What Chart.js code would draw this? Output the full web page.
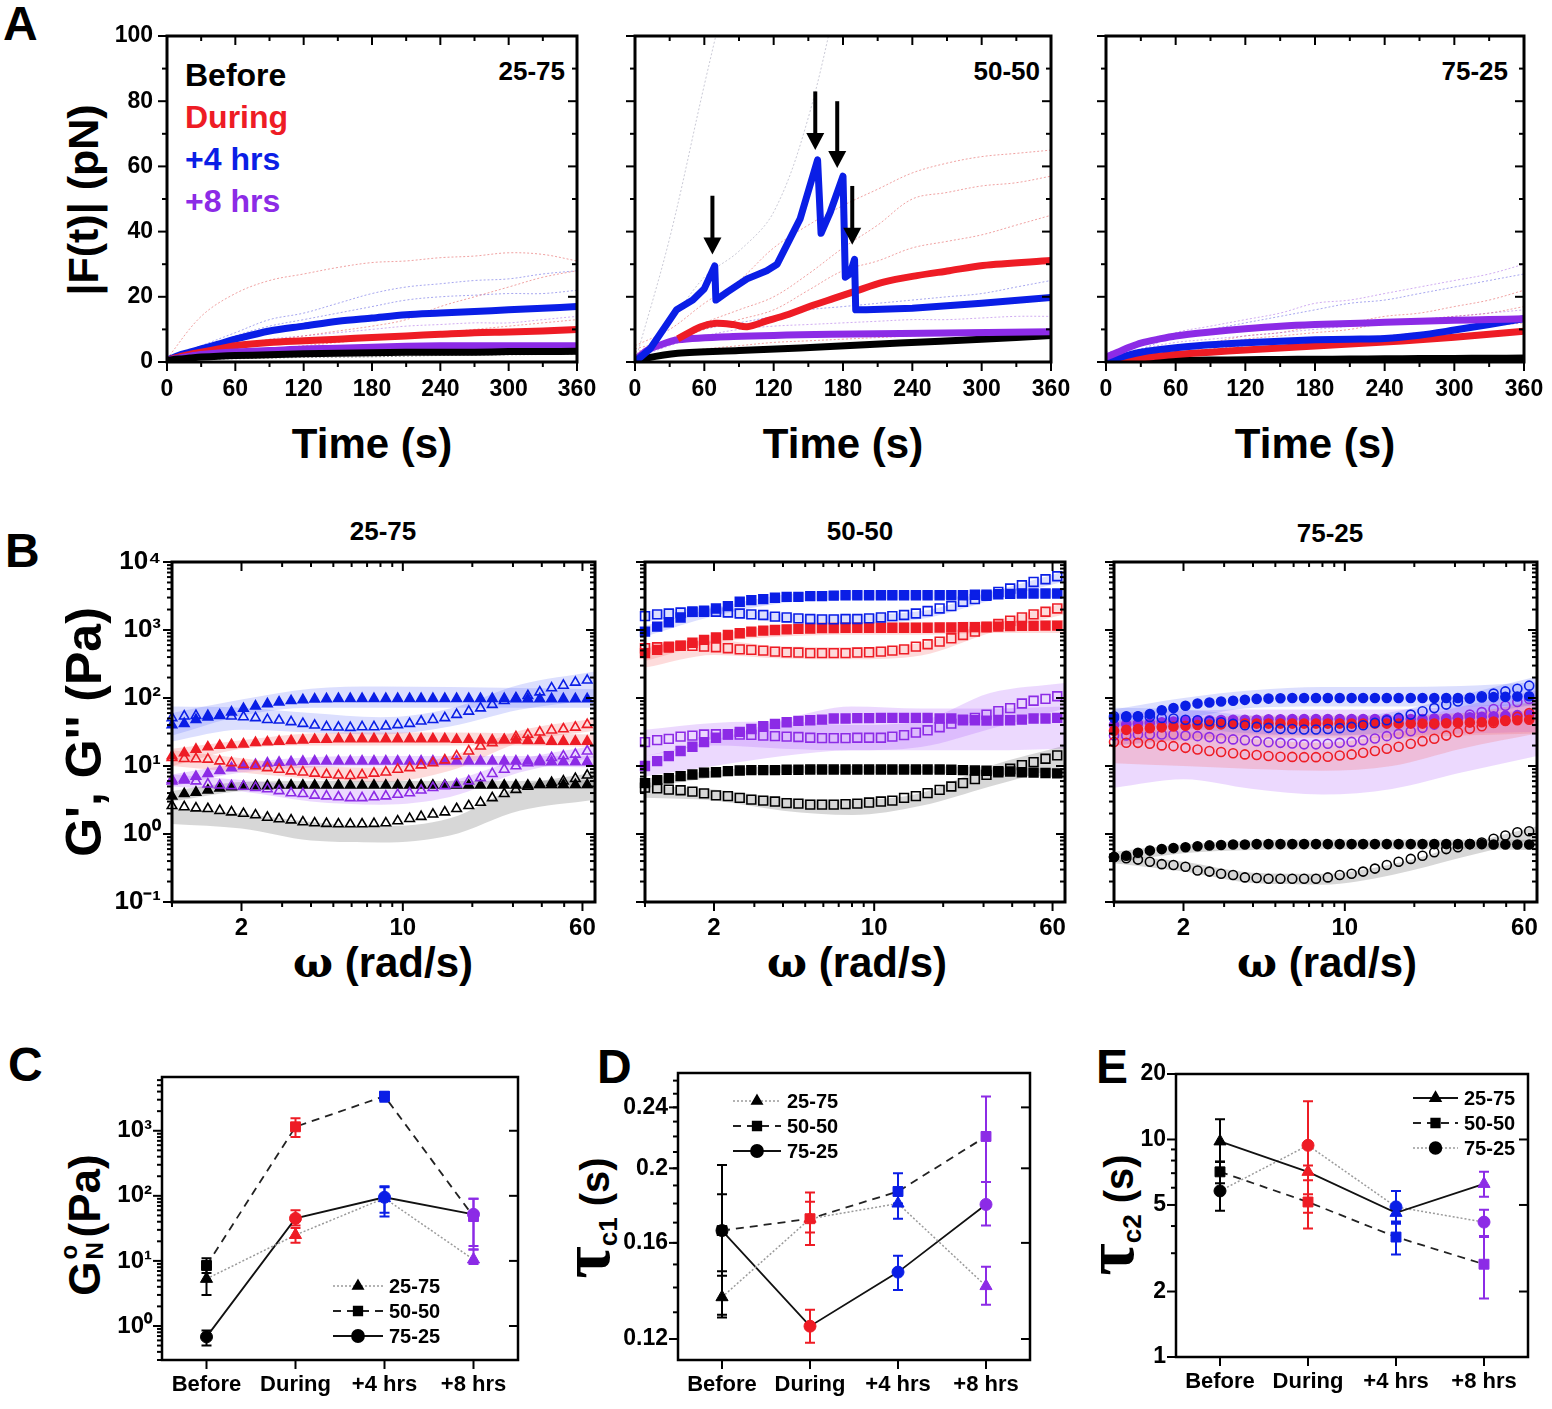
<!DOCTYPE html>
<html>
<head>
<meta charset="utf-8">
<title>Force traces and rheology</title>
<script src="https://cdn.jsdelivr.net/npm/chart.js@4.4.1/dist/chart.umd.min.js"></script>
<style>
  html, body { margin: 0; padding: 0; background: #fff; }
  body { position: relative; width: 1552px; height: 1409px; overflow: hidden;
         font-family: "Liberation Sans", Arial, sans-serif; font-weight: bold; color: #000; }
  canvas { position: absolute; }
  .t { position: absolute; white-space: nowrap; line-height: 1; font-weight: bold; }
  .c { transform: translateX(-50%); }
  .r { transform: translateX(-100%); }
  .rot { transform: translate(-50%, -50%) rotate(-90deg); }
  .ss { display: inline-block; position: relative; width: 24px; height: 1em; vertical-align: top; }
  .ss span { position: absolute; left: 2px; font-size: 24px; line-height: 1; }
  .tau { font-size: 70px; font-family: "Liberation Serif", "DejaVu Serif", serif; font-weight: bold; }
</style>
</head>
<body>

<div class="t" style="left:3px;top:0;font-size:48px">A</div>
<div class="t" style="left:5px;top:527px;font-size:48px">B</div>
<div class="t" style="left:8px;top:1041px;font-size:48px">C</div>
<div class="t" style="left:597px;top:1043px;font-size:48px">D</div>
<div class="t" style="left:1096px;top:1043px;font-size:48px">E</div>

<div class="t" style="left:185px;top:59px;font-size:32px;color:#000">Before</div>
<div class="t" style="left:185px;top:101px;font-size:32px;color:#ee1c25">During</div>
<div class="t" style="left:185px;top:143px;font-size:32px;color:#0a1ee6">+4 hrs</div>
<div class="t" style="left:185px;top:185px;font-size:32px;color:#8c2be6">+8 hrs</div>

<div class="t r" style="left:565px;top:58px;font-size:26px">25-75</div>
<div class="t r" style="left:1040px;top:58px;font-size:26px">50-50</div>
<div class="t r" style="left:1508px;top:58px;font-size:26px">75-25</div>

<div class="t c" style="left:372px;top:423px;font-size:42px">Time (s)</div>
<div class="t c" style="left:843px;top:423px;font-size:42px">Time (s)</div>
<div class="t c" style="left:1315px;top:423px;font-size:42px">Time (s)</div>

<div class="t c" style="left:383px;top:518px;font-size:26px">25-75</div>
<div class="t c" style="left:860px;top:518px;font-size:26px">50-50</div>
<div class="t c" style="left:1330px;top:520px;font-size:26px">75-25</div>

<div class="t c" style="left:383px;top:942px;font-size:42px"><span style="font-family:'DejaVu Serif'">ω</span> (rad/s)</div>
<div class="t c" style="left:857px;top:942px;font-size:42px"><span style="font-family:'DejaVu Serif'">ω</span> (rad/s)</div>
<div class="t c" style="left:1327px;top:942px;font-size:42px"><span style="font-family:'DejaVu Serif'">ω</span> (rad/s)</div>

<div class="t rot" style="left:83px;top:200px;font-size:43px">|F(t)| (pN)</div>
<div class="t rot" style="left:84px;top:732px;font-size:50px">G', G'' (Pa)</div>
<div class="t rot" style="left:85px;top:1225px;font-size:44px">G<span class="ss"><span style="top:-6px">o</span><span style="top:20px">N</span></span>(Pa)</div>
<div class="t rot" style="left:586px;top:1218px"><span class="tau">τ</span><span style="font-size:26px;position:relative;top:8px">c1</span><span style="font-size:40px"> (s)</span></div>
<div class="t rot" style="left:1110px;top:1215px"><span class="tau">τ</span><span style="font-size:26px;position:relative;top:8px">c2</span><span style="font-size:40px"> (s)</span></div>

<script>
// ---------------- shared ----------------
const stages = ['Before', 'During', '+4 hrs', '+8 hrs'];
const stageColors = ['#000000', '#ee1c25', '#0a1ee6', '#8c2be6'];
const compositions = ['25-75', '50-50', '75-25'];

// ---------------- A: |F(t)| traces ----------------
const timeTicks = [0, 60, 120, 180, 240, 300, 360];
const forceTicks = [0, 20, 40, 60, 80, 100];
const tGrid = [0, 10, 20, 30, 45, 60, 90, 120, 150, 180, 210, 240, 270, 300, 330, 360];
const tFaint = [0, 30, 60, 90, 120, 150, 180, 210, 240, 270, 300, 330, 360];

// 25-75 mean traces (on tGrid)
const a1Black  = [0.5, 0.9, 1.2, 1.5, 1.8, 2, 2.2, 2.5, 2.7, 2.8, 3, 3, 3, 3.2, 3.2, 3.3];
const a1Red    = [0.5, 1.5, 2.3, 3, 4, 5, 6, 6.5, 7, 7.5, 8, 8.5, 9, 9.2, 9.5, 10];
const a1Blue   = [0.5, 2, 3, 4, 5.5, 7, 9.5, 11, 12.5, 13.5, 14.5, 15, 15.5, 16, 16.5, 17];
const a1Purple = [0.5, 1.2, 1.8, 2.3, 2.8, 3.1, 3.5, 4, 4.2, 4.5, 4.8, 5, 5, 5, 5, 5];
// 25-75 individual traces (on tFaint)
const a1FaintRed1    = [1, 14, 21, 25, 27, 29, 30.5, 31, 32, 32.5, 33.5, 33, 31];
const a1FaintRed2    = [1, 3, 5, 6.5, 8, 9.5, 11, 13, 17, 20, 23, 26, 28];
const a1FaintRed3    = [0.5, 2, 3, 4, 5, 6, 7, 8, 9, 10, 11, 12, 13];
const a1FaintBlue1   = [1, 5, 9, 13, 15, 18, 21, 23, 24, 25, 25.5, 27, 28];
const a1FaintBlue2   = [1, 4, 8, 11, 13, 15, 17, 19, 20, 20.5, 21, 21, 22];
const a1FaintPurple1 = [1, 3, 5, 7, 8, 9, 10, 11, 11.5, 12, 12, 13, 14];
const a1FaintBlack1  = [0.3, 0.8, 1, 1.2, 1.4, 1.5, 1.6, 1.8, 2, 2.1, 2.2, 2.3, 2.4];

// 50-50 mean traces (own time points)
const a2BlueT   = [0, 13, 36, 50, 60, 69, 70, 80, 97, 114, 123, 143, 158, 161, 169, 180, 182, 186, 190, 191, 200, 240, 300, 360];
const a2BlueF   = [0, 4, 16, 19, 22.5, 29.5, 19, 21.5, 25.5, 28, 30, 44, 62, 39.5, 46, 57, 26, 27, 31.5, 16, 16, 16.5, 18, 19.8];
const a2RedT    = [37, 57, 70, 85, 97, 114, 131, 154, 172, 189, 215, 244, 272, 301, 360];
const a2RedF    = [7.1, 10.8, 11.9, 11.5, 10.8, 12.6, 14.4, 17.4, 19.5, 21.5, 24.5, 26.5, 28, 29.6, 31.1];
const a2PurpleT = [0, 10, 20, 37, 85, 170, 250, 360];
const a2PurpleF = [0.5, 3.5, 5, 6.8, 7.8, 8.5, 8.8, 9.3];
const a2BlackT  = [0, 10, 37, 90, 143, 229, 300, 360];
const a2BlackF  = [0, 1.2, 2.7, 3.5, 4.3, 5.8, 7, 8.1];
// 50-50 individual traces (on tFaint)
const a2FaintGray1   = [0, 38, 85, 130, null, null, null, null, null, null, null, null, null];
const a2FaintBlue1   = [0, 12, 26, 34, 46, 75, 120, null, null, null, null, null, null];
const a2FaintRed1    = [5, 10, 18, 25, 35, 42, 48, 53, 58, 61, 63, 64, 65];
const a2FaintRed2    = [4, 7, 12, 16, 20, 27, 35, 42, 50, 52, 54, 55, 57];
const a2FaintRed3    = [3, 6, 10, 13, 16, 22, 28, 31, 35, 37, 39, 42, 45];
const a2FaintBlue2   = [2, 6, 10, 12, 14, 16, 17, 18, 19, 20, 21, 23, 25];
const a2FaintPurple1 = [1, 5, 8, 10, 11, 11.5, 12, 12.5, 13, 13, 13.5, 14, 14];
const a2FaintRed4    = [1, 3, 4, 5, 6, 6.5, 7, 7.5, 8, 8.5, 9, 9.5, 10];
// arrows marking the rupture events on the 50-50 +4 hrs trace
const arrowT    = [67, 156, 175, 188];
const arrowFrom = [51, 83, 80, 54];
const arrowTo   = [33, 65, 59.5, 36];

// 75-25 mean traces (on tGrid)
const a3Black  = [0, 0.2, 0.3, 0.4, 0.5, 0.55, 0.6, 0.7, 0.8, 0.85, 0.9, 1, 1.05, 1.1, 1.15, 1.2];
const a3Red    = [0.2, 0.5, 0.9, 1.2, 1.8, 2.3, 3, 3.7, 4.3, 4.9, 5.5, 6.1, 6.8, 7.6, 8.5, 9.4];
const a3Blue   = [0.4, 1.2, 2.2, 3, 3.8, 4.4, 5.3, 5.9, 6.4, 6.8, 7, 7.2, 8.2, 9.8, 11.5, 13.3];
const a3Purple = [1.5, 3, 4.5, 5.8, 7, 8, 9.2, 10.2, 11, 11.5, 11.8, 12.2, 12.5, 12.8, 13, 13.3];
// 75-25 individual traces (on tFaint)
const a3FaintPurple1 = [3, 5, 9, 11, 13, 15, 18, 19, 21, 23, 25, 27, 30];
const a3FaintPurple2 = [2, 4, 6, 7, 8, 9, 10, 11, 12, 13, 14, 15, 16];
const a3FaintBlue1   = [2, 4, 8, 10, 12, 14, 16, 18, 19, 21, 23, 25, 27];
const a3FaintRed1    = [1, 3, 5, 6, 8, 9, 11, 12, 14, 15, 17, 19, 22];
const a3FaintRed2    = [1, 2, 4, 5, 7, 8, 9, 10, 12, 13, 14, 15, 17];
const a3FaintRed3    = [0.5, 2, 3, 4, 5, 6, 7, 7.5, 8, 9, 10, 11, 12];

// ---------------- B: G' (filled) and G'' (open) vs omega ----------------
const omega = [1.00, 1.13, 1.27, 1.43, 1.61, 1.81, 2.04, 2.30, 2.59, 2.91, 3.28, 3.69, 4.15, 4.67, 5.26, 5.92, 6.66, 7.50,
               8.44, 9.50, 10.7, 12.0, 13.5, 15.2, 17.1, 19.3, 21.7, 24.4, 27.5, 30.9, 34.8, 39.2, 44.1, 49.6, 55.9, 62.9];
const bandOmega = [1, 2, 4, 8, 16, 32, 68];
const omegaTicks = [2, 10, 60];
const modulusTicks = [0.1, 1, 10, 100, 1000, 10000];

// 25-75
const b1GpBlack   = [3.6, 3.9, 4.1, 4.4, 4.7, 4.9, 5.0, 5.1, 5.1, 5.2, 5.2, 5.2, 5.2, 5.2, 5.2, 5.2, 5.2, 5.2, 5.2, 5.2, 5.2, 5.2, 5.2, 5.2, 5.2, 5.2, 5.2, 5.2, 5.2, 5.2, 5.2, 5.3, 5.3, 5.3, 5.3, 5.3];
const b1GppBlack  = [2.6, 2.5, 2.4, 2.35, 2.2, 2.1, 2.0, 1.9, 1.75, 1.66, 1.6, 1.5, 1.45, 1.42, 1.4, 1.4, 1.4, 1.42, 1.45, 1.55, 1.68, 1.8, 1.95, 2.1, 2.35, 2.6, 2.9, 3.4, 3.9, 4.5, 5.0, 5.4, 5.7, 6.0, 6.5, 7.3];
const b1GpRed     = [14, 15.5, 17.5, 19, 20, 20.5, 21, 22, 22.5, 23, 23.5, 24, 24.5, 24.5, 25, 25, 25, 25, 25, 25, 25, 25, 25, 25, 24.5, 24.5, 24, 24, 24, 24, 23.5, 23.5, 23, 23, 23, 23];
const b1GppRed    = [13.2, 12.8, 12.7, 12.5, 11.8, 11.1, 10.5, 10, 9.4, 8.9, 8.4, 8.1, 7.8, 7.5, 7.3, 7.2, 7.4, 7.8, 8.1, 8.9, 9.4, 10.3, 11.1, 12.2, 14, 16.5, 19.5, 21.9, 24.5, 26.8, 29, 31.4, 33.6, 35, 37, 40.6];
const b1GpBlue    = [40, 42, 48, 52, 56, 62, 70, 76, 82, 87, 91, 94, 96, 97, 98, 98, 98, 98, 98, 98, 98, 98, 98, 98, 98, 98, 98, 98, 98, 97, 97, 97, 97, 97, 97, 97];
const b1GppBlue   = [51, 54, 55, 55, 55, 54, 52.6, 51, 48, 47, 44.5, 42, 39.7, 37.5, 37.1, 36.7, 37.5, 37.5, 38.4, 40.2, 42, 45.5, 48, 51, 57, 63.5, 71, 80, 91, 100, 108, 122, 140, 153, 170, 182];
const b1GpPurple  = [6, 6.5, 7, 7.7, 8.5, 9.4, 10, 10.5, 11, 11.3, 11.5, 11.7, 11.8, 11.8, 11.8, 11.8, 11.8, 11.8, 11.8, 11.8, 11.8, 11.8, 11.8, 11.8, 11.8, 11.8, 11.8, 11.8, 11.8, 11.8, 11.8, 11.5, 11.5, 11.5, 11.5, 11.5];
const b1GppPurple = [6.3, 6.2, 6.0, 5.4, 5.2, 5.1, 5.0, 4.8, 4.6, 4.3, 4.0, 3.9, 3.7, 3.6, 3.5, 3.4, 3.4, 3.5, 3.6, 3.8, 4.0, 4.4, 4.8, 5.1, 5.4, 6.0, 6.7, 7.7, 8.9, 10, 11.1, 12.2, 13.2, 14, 14.8, 16.5];
// 25-75 spread (on bandOmega)
const b1BandGpBlackLo   = [3.0, 4.3, 4.6, 4.6, 4.6, 4.6, 4.6];
const b1BandGpBlackHi   = [4.3, 5.8, 6.0, 6.0, 6.0, 6.0, 6.2];
const b1BandGppBlackLo  = [1.4, 1.2, 0.8, 0.75, 0.95, 2.2, 3.2];
const b1BandGppBlackHi  = [2.4, 2.0, 1.5, 1.3, 1.7, 5.0, 8.0];
const b1BandGpRedLo     = [10, 18, 20, 20, 20, 20, 19];
const b1BandGpRedHi     = [18, 24, 30, 31, 31, 30, 29];
const b1BandGppRedLo    = [10, 8, 6.5, 5.8, 8.5, 22, 33];
const b1BandGppRedHi    = [17, 13, 10, 9.5, 14, 33, 50];
const b1BandGpBlueLo    = [28, 55, 72, 72, 72, 72, 72];
const b1BandGpBlueHi    = [60, 95, 137, 148, 145, 140, 135];
const b1BandGppBlueLo   = [23, 34, 31, 29, 38, 67, 95];
const b1BandGppBlueHi   = [75, 72, 60, 52, 70, 157, 246];
const b1BandGpPurpleLo  = [5, 8, 9.5, 9.8, 9.8, 9.8, 9.5];
const b1BandGpPurpleHi  = [7.5, 11, 13.5, 14, 14, 14, 14];
const b1BandGppPurpleLo = [5, 4.2, 3.0, 2.7, 3.5, 8, 13.5];
const b1BandGppPurpleHi = [7.5, 6.2, 5, 4.5, 6, 12.5, 20];

// 50-50
const b2GpBlack   = [5.6, 6.2, 6.6, 7.1, 7.5, 8.0, 8.1, 8.4, 8.6, 8.7, 8.7, 8.7, 8.8, 8.8, 8.9, 8.9, 8.9, 8.9, 8.9, 8.9, 8.9, 8.9, 8.9, 8.9, 8.9, 8.9, 8.8, 8.7, 8.6, 8.5, 8.4, 8.3, 8.1, 8.0, 7.9, 7.8];
const b2GppBlack  = [4.8, 4.7, 4.5, 4.4, 4.2, 3.96, 3.7, 3.6, 3.4, 3.2, 3.1, 3.0, 2.85, 2.8, 2.7, 2.7, 2.7, 2.75, 2.8, 2.9, 3.0, 3.1, 3.4, 3.6, 4.0, 4.45, 5.0, 5.6, 6.4, 7.4, 8.1, 9.1, 10.3, 11.4, 12.8, 14.3];
const b2GpRed     = [456, 510, 550, 590, 650, 715, 780, 845, 895, 946, 978, 1000, 1020, 1040, 1050, 1070, 1070, 1080, 1080, 1080, 1080, 1080, 1080, 1080, 1080, 1090, 1090, 1100, 1100, 1120, 1120, 1140, 1150, 1150, 1160, 1160];
const b2GppRed    = [540, 557, 570, 585, 585, 570, 557, 540, 520, 510, 498, 480, 470, 466, 456, 456, 456, 456, 466, 470, 480, 498, 520, 570, 617, 675, 755, 845, 946, 1094, 1225, 1370, 1530, 1700, 1855, 2075];
const b2GpBlue    = [946, 1120, 1295, 1530, 1855, 1920, 2075, 2245, 2600, 2750, 2843, 2975, 3075, 3075, 3145, 3145, 3200, 3250, 3250, 3250, 3250, 3250, 3250, 3250, 3250, 3250, 3250, 3250, 3300, 3300, 3350, 3400, 3440, 3440, 3440, 3440];
const b2GppBlue   = [1600, 1700, 1750, 1810, 1855, 1855, 1855, 1810, 1750, 1700, 1660, 1570, 1530, 1480, 1450, 1430, 1430, 1450, 1450, 1480, 1530, 1600, 1660, 1750, 1900, 2075, 2245, 2600, 2843, 3180, 3640, 4070, 4550, 5090, 5570, 6170];
const b2GpPurple  = [10, 11.8, 14, 16.6, 19.2, 22.4, 26, 29, 31.8, 35, 38.5, 41.7, 44, 46, 47, 48, 50, 50, 50.6, 50.6, 51, 51, 51, 51, 51, 50, 50, 48, 47, 46.5, 46.5, 47, 48, 50, 50, 51];
const b2GppPurple = [22.4, 24, 25, 27, 28, 29, 29.3, 29.3, 29, 28.7, 28, 27.5, 27, 26.7, 26, 25.7, 25.7, 25.7, 26, 26, 26, 27, 28.4, 30.9, 33.5, 37.2, 42, 47, 51, 57, 64, 71, 83, 91, 97, 106];
const b2BandGpBlackLo   = [4.8, 6.8, 7.8, 7.8, 7.8, 7.5, 6.8];
const b2BandGpBlackHi   = [6.5, 8.5, 10, 10, 10, 9.5, 9];
const b2BandGppBlackLo  = [3.4, 3.1, 2.2, 1.9, 2.6, 5, 10];
const b2BandGppBlackHi  = [5.2, 4.5, 3.4, 3.2, 4, 10, 20];
const b2BandGpRedLo     = [350, 650, 800, 850, 850, 900, 900];
const b2BandGpRedHi     = [550, 850, 1200, 1300, 1300, 1350, 1400];
const b2BandGppRedLo    = [280, 430, 380, 370, 420, 900, 1700];
const b2BandGppRedHi    = [640, 700, 570, 560, 650, 1300, 2500];
const b2BandGpBlueLo    = [800, 1600, 2500, 2800, 2800, 2900, 3000];
const b2BandGpBlueHi    = [1150, 2100, 3300, 3800, 3800, 3900, 4000];
const b2BandGppBlueLo   = [1350, 1550, 1300, 1250, 1450, 2700, 5200];
const b2BandGppBlueHi   = [1900, 2100, 1750, 1700, 1900, 3600, 7300];
const b2BandGpPurpleLo  = [7, 10, 14, 17, 17, 17, 18];
const b2BandGpPurpleHi  = [14, 24, 48, 75, 70, 70, 75];
const b2BandGppPurpleLo = [14, 20, 18, 17, 19, 35, 70];
const b2BandGppPurpleHi = [34, 43, 45, 40, 46, 118, 166];

// 75-25
const b3GpBlack   = [0.46, 0.48, 0.53, 0.57, 0.6, 0.62, 0.64, 0.66, 0.68, 0.69, 0.7, 0.7, 0.71, 0.71, 0.71, 0.71, 0.71, 0.71, 0.71, 0.71, 0.71, 0.71, 0.71, 0.71, 0.71, 0.71, 0.71, 0.71, 0.71, 0.71, 0.71, 0.71, 0.7, 0.7, 0.7, 0.7];
const b3GppBlack  = [0.46, 0.44, 0.42, 0.39, 0.36, 0.35, 0.33, 0.29, 0.28, 0.26, 0.25, 0.23, 0.225, 0.22, 0.22, 0.22, 0.22, 0.22, 0.23, 0.25, 0.26, 0.28, 0.31, 0.35, 0.39, 0.43, 0.48, 0.54, 0.6, 0.64, 0.71, 0.75, 0.85, 0.95, 1.06, 1.1];
const b3GpRed     = [33, 34, 35, 36, 37, 38, 39, 40, 40.5, 41, 41.5, 42, 42, 42, 42, 42, 42, 42, 42, 42, 42, 42, 42, 42, 42, 42, 42, 42, 42.5, 43, 43.5, 44, 45, 46, 47, 48];
const b3GppRed    = [22.5, 22, 21.9, 21.2, 20.1, 19.6, 18.5, 17.5, 16.6, 16.1, 15.4, 14.8, 14.5, 14.0, 13.7, 13.6, 13.5, 13.5, 13.7, 14.3, 14.8, 15.7, 16.6, 17.9, 19.2, 21.2, 23.2, 25.1, 28, 31.4, 35.2, 38.5, 43, 47, 52.7, 60];
const b3GpBlue    = [51, 52.7, 54, 58, 66, 71, 77, 83, 86, 89, 91, 94, 97, 98, 99, 100, 100, 100, 100, 100, 100, 100, 100, 100, 100, 100, 100, 100, 100, 100, 101, 102, 103, 104, 105, 106];
const b3GppBlue   = [54, 54, 53.5, 52.7, 51, 50, 48, 47, 45.5, 44, 41.7, 39.8, 37.6, 36.4, 35.2, 35, 34.4, 34.4, 35, 36, 37.6, 39.8, 43, 47, 51, 57, 64, 71, 80, 89, 98, 106, 116, 125, 137, 152];
const b3GpPurple  = [40, 41, 42, 43, 44, 45, 46, 46.5, 47, 47.5, 48, 48, 48, 48.5, 48.5, 49, 49, 49, 49, 49, 49, 49, 49, 49, 49, 49, 49, 50, 50, 51, 52, 53, 54, 55, 56, 57];
const b3GppPurple = [28, 28.2, 29, 29, 29, 29, 28, 27.5, 26.6, 25.4, 24.6, 24, 23.2, 22.4, 21.9, 21.4, 20.8, 20.8, 21.2, 21.9, 22.6, 24, 25.4, 27.5, 29.7, 32.5, 36.4, 40.6, 45.5, 51, 57, 62, 69, 77, 87.5, 97];
const b3BandGpBlackLo   = [0.38, 0.52, 0.58, 0.6, 0.6, 0.6, 0.58];
const b3BandGpBlackHi   = [0.55, 0.7, 0.8, 0.82, 0.82, 0.82, 0.82];
const b3BandGppBlackLo  = [0.37, 0.28, 0.19, 0.18, 0.25, 0.45, 0.85];
const b3BandGppBlackHi  = [0.5, 0.39, 0.27, 0.26, 0.36, 0.68, 1.3];
const b3BandGpRedLo     = [20, 24, 26, 26, 26, 28, 30];
const b3BandGpRedHi     = [45, 50, 55, 55, 55, 60, 65];
const b3BandGppRedLo    = [11, 10, 9, 8.5, 10, 18, 30];
const b3BandGppRedHi    = [35, 32, 25, 22, 30, 55, 90];
const b3BandGpBlueLo    = [38, 50, 72, 75, 75, 75, 78];
const b3BandGpBlueHi    = [68, 100, 130, 145, 145, 150, 170];
const b3BandGppBlueLo   = [38, 36, 30, 28, 32, 52, 80];
const b3BandGppBlueHi   = [72, 68, 55, 50, 62, 110, 207];
const b3BandGpPurpleLo  = [20, 25, 28, 28, 28, 30, 32];
const b3BandGpPurpleHi  = [60, 65, 68, 68, 68, 75, 85];
const b3BandGppPurpleLo = [4.8, 6.4, 4.6, 3.8, 4.6, 8, 14];
const b3BandGppPurpleHi = [48, 45, 38, 34, 42, 75, 130];

// ---------------- C: plateau modulus ----------------
const gnTicks = [1, 10, 100, 1000];
const gn2575 = [5.3, 25, 92, 10.5];
const gn2575Lo = [3.0, 19, 48, 9];
const gn2575Hi = [8, 32, 135, 15];
const gn5050 = [8.5, 1150, 3400, 48];
const gn5050Lo = [6.5, 800, 2800, 17];
const gn5050Hi = [11, 1550, 3900, 90];
const gn7525 = [0.68, 45, 95, 52];
const gn7525Lo = [0.5, 35, 55, 15];
const gn7525Hi = [0.85, 60, 140, 90];

// ---------------- D: tau_c1 ----------------
const tc1Ticks = [0.12, 0.16, 0.2, 0.24];
const tc1_2575 = [0.136, 0.172, 0.180, 0.1406];
const tc1_2575Lo = [0.129, 0.165, 0.172, 0.133];
const tc1_2575Hi = [0.145, 0.181, 0.187, 0.149];
const tc1_5050 = [0.166, 0.172, 0.1866, 0.220];
const tc1_5050Lo = [0.128, 0.159, 0.180, 0.192];
const tc1_5050Hi = [0.202, 0.186, 0.197, 0.248];
const tc1_7525 = [0.166, 0.1247, 0.1466, 0.1795];
const tc1_7525Lo = [0.147, 0.1187, 0.139, 0.1686];
const tc1_7525Hi = [0.185, 0.131, 0.154, 0.192];

// ---------------- E: tau_c2 ----------------
const tc2Ticks = [1, 2, 5, 10, 20];
const tc2_2575 = [9.8, 7.1, 4.6, 6.25];
const tc2_2575Lo = [7.9, 6.5, 4.2, 5.45];
const tc2_2575Hi = [12.4, 7.6, 5.0, 7.1];
const tc2_5050 = [7.1, 5.16, 3.56, 2.67];
const tc2_5050Lo = [6.3, 4.6, 2.96, 1.86];
const tc2_5050Hi = [7.9, 5.6, 4.1, 3.56];
const tc2_7525 = [5.8, 9.4, 4.9, 4.17];
const tc2_7525Lo = [4.7, 3.9, 4.15, 3.6];
const tc2_7525Hi = [7.9, 15.0, 5.8, 4.75];

// ================= drawing =================
Chart.defaults.font.family = '"Liberation Sans", Arial, sans-serif';
Chart.defaults.font.weight = 'bold';
Chart.defaults.color = '#000';

const sup = { '-1': '\u207B\u00B9', '0': '\u2070', '1': '\u00B9', '2': '\u00B2', '3': '\u00B3', '4': '\u2074' };
const powLabel = v => '10' + sup[String(Math.round(Math.log10(v)))];

function range(a, b, step) { const r = []; for (let v = a; v <= b + 1e-9; v += step) r.push(+v.toFixed(4)); return r; }
function logMinor(lo, hi) {
  const r = [];
  for (let d = lo; d < hi; d *= 10) for (let k = 2; k <= 9; k++) r.push(+(d * k).toPrecision(3));
  return r;
}

// box around the plot area plus major / minor tick marks
const framePlugin = {
  id: 'frame',
  afterDatasetsDraw(chart, args, o) {
    const { ctx, chartArea: a } = chart;
    const xs = chart.scales.x, ys = chart.scales.y;
    ctx.save();
    ctx.strokeStyle = '#000';
    ctx.lineCap = 'square';
    ctx.lineWidth = o.tickWidth || 2;
    const xt = (vals, len, top) => (vals || []).forEach(v => {
      const px = xs.getPixelForValue(v);
      if (px < a.left - 1 || px > a.right + 1) return;
      ctx.beginPath(); ctx.moveTo(px, a.bottom); ctx.lineTo(px, a.bottom + len); ctx.stroke();
      if (top) { ctx.beginPath(); ctx.moveTo(px, a.top); ctx.lineTo(px, a.top + len); ctx.stroke(); }
    });
    const yt = (vals, len, right) => (vals || []).forEach(v => {
      const py = ys.getPixelForValue(v);
      if (py < a.top - 1 || py > a.bottom + 1) return;
      ctx.beginPath(); ctx.moveTo(a.left, py); ctx.lineTo(a.left - len, py); ctx.stroke();
      if (right) { ctx.beginPath(); ctx.moveTo(a.right, py); ctx.lineTo(a.right - len, py); ctx.stroke(); }
    });
    xt(o.xMajor, 8, o.topTicks);
    xt(o.xMinor, 4, o.topTicks);
    yt(o.yMajor, 8, true);
    yt(o.yMinor, 4, o.rightMinor);
    ctx.lineWidth = o.lw || 2.5;
    ctx.lineCap = 'butt';
    ctx.strokeRect(a.left, a.top, a.right - a.left, a.bottom - a.top);
    ctx.restore();
  }
};

// arrows for the 50-50 force panel
const arrowPlugin = {
  id: 'arrows',
  afterDatasetsDraw(chart, args, o) {
    if (!o.t) return;
    const { ctx } = chart;
    const xs = chart.scales.x, ys = chart.scales.y;
    ctx.save();
    ctx.fillStyle = '#000';
    ctx.strokeStyle = '#000';
    o.t.forEach((t, i) => {
      const x = xs.getPixelForValue(t);
      const y0 = ys.getPixelForValue(o.from[i]);
      const y1 = ys.getPixelForValue(o.to[i]);
      ctx.lineWidth = 4;
      ctx.beginPath(); ctx.moveTo(x, y0); ctx.lineTo(x, y1 - 14); ctx.stroke();
      ctx.beginPath(); ctx.moveTo(x - 9, y1 - 17); ctx.lineTo(x + 9, y1 - 17); ctx.lineTo(x, y1); ctx.closePath(); ctx.fill();
    });
    ctx.restore();
  }
};

// vertical error bars, coloured by stage
const errPlugin = {
  id: 'errBars',
  beforeDatasetsDraw(chart, args, o) {
    if (!o.bars) return;
    const { ctx } = chart;
    const xs = chart.scales.x, ys = chart.scales.y;
    ctx.save();
    ctx.lineWidth = 2;
    o.bars.forEach(b => {
      b.lo.forEach((lo, i) => {
        const x = xs.getPixelForValue(i);
        const yl = ys.getPixelForValue(lo), yh = ys.getPixelForValue(b.hi[i]);
        ctx.strokeStyle = stageColors[i];
        ctx.beginPath();
        ctx.moveTo(x, yl); ctx.lineTo(x, yh);
        ctx.moveTo(x - 5, yl); ctx.lineTo(x + 5, yl);
        ctx.moveTo(x - 5, yh); ctx.lineTo(x + 5, yh);
        ctx.stroke();
      });
    });
    ctx.restore();
  }
};

// small legend inside the plot area, built from the datasets
const inLegendPlugin = {
  id: 'inLegend',
  afterDraw(chart, args, o) {
    if (o.x === undefined) return;
    const { ctx, chartArea: a } = chart;
    ctx.save();
    ctx.font = 'bold 20px "Liberation Sans", Arial, sans-serif';
    ctx.textBaseline = 'middle';
    chart.data.datasets.forEach((ds, i) => {
      const y = a.top + o.y + i * o.gap;
      const x0 = a.left + o.x, x1 = x0 + o.len;
      ctx.strokeStyle = ds.borderColor;
      ctx.lineWidth = ds.borderWidth;
      ctx.setLineDash(ds.borderDash || []);
      ctx.beginPath(); ctx.moveTo(x0, y); ctx.lineTo(x1, y); ctx.stroke();
      ctx.setLineDash([]);
      ctx.fillStyle = '#000';
      ctx.strokeStyle = '#000';
      Chart.helpers.drawPoint(ctx, { pointStyle: ds.pointStyle, radius: 6, rotation: 0, borderWidth: 1 }, (x0 + x1) / 2, y);
      ctx.fillText(ds.label, x1 + 6, y + 1);
    });
    ctx.restore();
  }
};

function makeCanvas(plot, pad) {
  const c = document.createElement('canvas');
  const w = plot.r - plot.l + pad.l + pad.r;
  const h = plot.b - plot.t + pad.t + pad.b;
  c.width = w; c.height = h;
  c.style.left = (plot.l - pad.l) + 'px';
  c.style.top = (plot.t - pad.t) + 'px';
  c.style.width = w + 'px';
  c.style.height = h + 'px';
  document.body.appendChild(c);
  return c;
}

function fixedTicks(vals) { return s => { s.ticks = vals.map(v => ({ value: v })); }; }

function drawChart(plot, pad, datasets, scales, pluginOpts, plugins) {
  const canvas = makeCanvas(plot, pad);
  scales.x.afterFit = s => { s.height = pad.b; };
  scales.y.afterFit = s => { s.width = pad.l; };
  for (const k of ['x', 'y']) {
    scales[k].grid = { display: false, drawTicks: false };
    scales[k].border = { display: false };
  }
  return new Chart(canvas, {
    type: 'line',
    data: { datasets },
    options: {
      responsive: false,
      animation: false,
      devicePixelRatio: 1,
      layout: { padding: { top: pad.t, right: pad.r, left: 0, bottom: 0 } },
      scales,
      plugins: Object.assign({ legend: { display: false }, tooltip: { enabled: false } }, pluginOpts)
    },
    plugins: [framePlugin].concat(plugins || [])
  });
}

// ---------- row A ----------
const faintCol = {
  red: 'rgba(225,70,70,0.5)', blue: 'rgba(60,60,220,0.45)', purple: 'rgba(150,70,225,0.45)',
  gray: 'rgba(120,120,150,0.4)', black: 'rgba(0,0,0,0.45)'
};
function pts(ts, vs) { return ts.map((t, i) => ({ x: t, y: vs[i] })); }
function thick(ts, vs, color, tension) {
  return { data: pts(ts, vs), borderColor: color, borderWidth: 7, pointRadius: 0, tension: tension, fill: false, borderJoinStyle: 'round' };
}
function faint(vs, color) {
  return { data: pts(tFaint, vs), borderColor: color, borderWidth: 1, borderDash: [2, 2], pointRadius: 0, tension: 0.35, fill: false };
}
function forceScales(showY) {
  return {
    x: { type: 'linear', min: 0, max: 360, afterBuildTicks: fixedTicks(timeTicks),
         ticks: { font: { size: 23, weight: 'bold' }, padding: 14, maxRotation: 0, autoSkip: false } },
    y: { type: 'linear', min: 0, max: 100, afterBuildTicks: fixedTicks(forceTicks),
         ticks: { display: showY, font: { size: 23, weight: 'bold' }, padding: 14, autoSkip: false } }
  };
}
const forceFrame = { frame: { xMajor: timeTicks, xMinor: range(30, 330, 60), yMajor: forceTicks, yMinor: range(10, 90, 20), topTicks: true, rightMinor: true, lw: 3 } };
const padA = { l: 75, r: 35, t: 40, b: 50 };

drawChart({ l: 167, r: 577, t: 36, b: 362 }, padA, [
  thick(tGrid, a1Black, '#000', 0.3),
  thick(tGrid, a1Purple, stageColors[3], 0.3),
  thick(tGrid, a1Red, stageColors[1], 0.3),
  thick(tGrid, a1Blue, stageColors[2], 0.3),
  faint(a1FaintRed1, faintCol.red), faint(a1FaintRed2, faintCol.red), faint(a1FaintRed3, faintCol.red),
  faint(a1FaintBlue1, faintCol.blue), faint(a1FaintBlue2, faintCol.blue),
  faint(a1FaintPurple1, faintCol.purple), faint(a1FaintBlack1, faintCol.black)
], forceScales(true), forceFrame);

drawChart({ l: 635, r: 1051, t: 36, b: 362 }, padA, [
  thick(a2BlueT, a2BlueF, stageColors[2], 0),
  thick(a2RedT, a2RedF, stageColors[1], 0.3),
  thick(a2PurpleT, a2PurpleF, stageColors[3], 0.3),
  thick(a2BlackT, a2BlackF, '#000', 0.3),
  faint(a2FaintGray1, faintCol.gray), faint(a2FaintBlue1, faintCol.gray),
  faint(a2FaintRed1, faintCol.red), faint(a2FaintRed2, faintCol.red), faint(a2FaintRed3, faintCol.red),
  faint(a2FaintRed4, faintCol.red), faint(a2FaintBlue2, faintCol.blue), faint(a2FaintPurple1, faintCol.purple)
], forceScales(false), Object.assign({ arrows: { t: arrowT, from: arrowFrom, to: arrowTo } }, forceFrame), [arrowPlugin]);

drawChart({ l: 1106, r: 1524, t: 36, b: 362 }, padA, [
  thick(tGrid, a3Purple, stageColors[3], 0.3),
  thick(tGrid, a3Blue, stageColors[2], 0.3),
  thick(tGrid, a3Red, stageColors[1], 0.3),
  thick(tGrid, a3Black, '#000', 0.3),
  faint(a3FaintPurple1, faintCol.purple), faint(a3FaintPurple2, faintCol.purple), faint(a3FaintBlue1, faintCol.blue),
  faint(a3FaintRed1, faintCol.red), faint(a3FaintRed2, faintCol.red), faint(a3FaintRed3, faintCol.red)
], forceScales(false), forceFrame);

// ---------- row B ----------
const bandCol = ['rgba(110,110,110,0.28)', 'rgba(245,90,90,0.22)', 'rgba(80,95,250,0.2)', 'rgba(175,95,250,0.24)'];
function marks(vals, color, style, filled, r) {
  return {
    data: omega.map((w, i) => ({ x: w, y: vals[i] })), showLine: false,
    pointStyle: style, pointRadius: r, pointBorderWidth: 1.6,
    pointBackgroundColor: filled ? color : 'rgba(255,255,255,0)', pointBorderColor: color,
    order: 0, clip: 10
  };
}
function band(lo, hi, color) {
  const common = { pointRadius: 0, borderWidth: 0, tension: 0.4, cubicInterpolationMode: 'monotone', order: 1 };
  return [
    Object.assign({ data: bandOmega.map((w, i) => ({ x: w, y: lo[i] })), fill: false }, common),
    Object.assign({ data: bandOmega.map((w, i) => ({ x: w, y: hi[i] })), fill: '-1', backgroundColor: color }, common)
  ];
}
function modScales(showY) {
  return {
    x: { type: 'logarithmic', min: 1, max: 68, afterBuildTicks: fixedTicks(omegaTicks),
         ticks: { font: { size: 24, weight: 'bold' }, padding: 12, maxRotation: 0, autoSkip: false, callback: v => String(v) } },
    y: { type: 'logarithmic', min: 0.1, max: 10000, afterBuildTicks: fixedTicks(modulusTicks),
         ticks: { display: showY, font: { size: 26, weight: 'bold' }, padding: 11, autoSkip: false, callback: v => powLabel(v) } }
  };
}
const omegaMinor = [1, 3, 4, 5, 6, 7, 8, 9, 20, 30, 40, 50];
const modFrame = { frame: { xMajor: omegaTicks, xMinor: omegaMinor, yMajor: modulusTicks, yMinor: logMinor(0.1, 10000), topTicks: true, rightMinor: true, lw: 3 } };
const padB = { l: 80, r: 30, t: 40, b: 45 };

function bPanel(plot, style, r, s, showY) {
  const ds = [
    marks(s.gpBlue, stageColors[2], style, true, r), marks(s.gppBlue, stageColors[2], style, false, r),
    marks(s.gpRed, stageColors[1], style, true, r), marks(s.gppRed, stageColors[1], style, false, r),
    marks(s.gpPurple, stageColors[3], style, true, r), marks(s.gppPurple, stageColors[3], style, false, r),
    marks(s.gpBlack, stageColors[0], style, true, r), marks(s.gppBlack, stageColors[0], style, false, r)
  ].concat(
    band(s.bands[0], s.bands[1], bandCol[0]), band(s.bands[2], s.bands[3], bandCol[0]),
    band(s.bands[4], s.bands[5], bandCol[1]), band(s.bands[6], s.bands[7], bandCol[1]),
    band(s.bands[8], s.bands[9], bandCol[2]), band(s.bands[10], s.bands[11], bandCol[2]),
    band(s.bands[12], s.bands[13], bandCol[3]), band(s.bands[14], s.bands[15], bandCol[3])
  );
  drawChart(plot, padB, ds, modScales(showY), modFrame);
}

bPanel({ l: 172, r: 595, t: 562, b: 902 }, 'triangle', 5.5, {
  gpBlack: b1GpBlack, gppBlack: b1GppBlack, gpRed: b1GpRed, gppRed: b1GppRed,
  gpBlue: b1GpBlue, gppBlue: b1GppBlue, gpPurple: b1GpPurple, gppPurple: b1GppPurple,
  bands: [b1BandGpBlackLo, b1BandGpBlackHi, b1BandGppBlackLo, b1BandGppBlackHi, b1BandGpRedLo, b1BandGpRedHi, b1BandGppRedLo, b1BandGppRedHi,
          b1BandGpBlueLo, b1BandGpBlueHi, b1BandGppBlueLo, b1BandGppBlueHi, b1BandGpPurpleLo, b1BandGpPurpleHi, b1BandGppPurpleLo, b1BandGppPurpleHi]
}, true);

bPanel({ l: 645, r: 1065, t: 562, b: 902 }, 'rect', 6.2, {
  gpBlack: b2GpBlack, gppBlack: b2GppBlack, gpRed: b2GpRed, gppRed: b2GppRed,
  gpBlue: b2GpBlue, gppBlue: b2GppBlue, gpPurple: b2GpPurple, gppPurple: b2GppPurple,
  bands: [b2BandGpBlackLo, b2BandGpBlackHi, b2BandGppBlackLo, b2BandGppBlackHi, b2BandGpRedLo, b2BandGpRedHi, b2BandGppRedLo, b2BandGppRedHi,
          b2BandGpBlueLo, b2BandGpBlueHi, b2BandGppBlueLo, b2BandGppBlueHi, b2BandGpPurpleLo, b2BandGpPurpleHi, b2BandGppPurpleLo, b2BandGppPurpleHi]
}, false);

bPanel({ l: 1114, r: 1537, t: 562, b: 902 }, 'circle', 4.5, {
  gpBlack: b3GpBlack, gppBlack: b3GppBlack, gpRed: b3GpRed, gppRed: b3GppRed,
  gpBlue: b3GpBlue, gppBlue: b3GppBlue, gpPurple: b3GpPurple, gppPurple: b3GppPurple,
  bands: [b3BandGpBlackLo, b3BandGpBlackHi, b3BandGppBlackLo, b3BandGppBlackHi, b3BandGpRedLo, b3BandGpRedHi, b3BandGppRedLo, b3BandGppRedHi,
          b3BandGpBlueLo, b3BandGpBlueHi, b3BandGppBlueLo, b3BandGppBlueHi, b3BandGpPurpleLo, b3BandGpPurpleHi, b3BandGppPurpleLo, b3BandGppPurpleHi]
}, false);

// ---------- row C / D / E ----------
const lineGray = { borderColor: '#9a9a9a', borderWidth: 1.5, borderDash: [2, 2] };
const lineDash = { borderColor: '#222', borderWidth: 1.8, borderDash: [8, 6] };
const lineSolid = { borderColor: '#111', borderWidth: 1.8, borderDash: [] };
function stageSeries(label, vals, style, line, r) {
  return Object.assign({
    label, data: vals, pointStyle: style, pointRadius: r, pointBorderWidth: 1,
    pointBackgroundColor: stageColors, pointBorderColor: stageColors, tension: 0, fill: false, clip: 10
  }, line);
}
function stageScales(min, max, ticks, fmt, ySize) {
  return {
    x: { type: 'category', labels: stages, offset: true,
         ticks: { font: { size: 22, weight: 'bold' }, padding: 12, maxRotation: 0, autoSkip: false } },
    y: { type: 'logarithmic', min, max, afterBuildTicks: fixedTicks(ticks),
         ticks: { font: { size: ySize, weight: 'bold' }, padding: 10, autoSkip: false, callback: fmt } }
  };
}
const padC = { l: 75, r: 20, t: 40, b: 45 };

drawChart({ l: 162, r: 518, t: 1077, b: 1360 }, padC, [
  stageSeries(compositions[0], gn2575, 'triangle', lineGray, 7),
  stageSeries(compositions[1], gn5050, 'rect', lineDash, 7),
  stageSeries(compositions[2], gn7525, 'circle', lineSolid, 6)
], stageScales(0.31, 6700, gnTicks, v => powLabel(v), 24), {
  frame: { xMajor: [0, 1, 2, 3], yMajor: gnTicks, yMinor: logMinor(0.1, 10000), topTicks: false, rightMinor: false, lw: 2.5 },
  errBars: { bars: [{ lo: gn2575Lo, hi: gn2575Hi }, { lo: gn5050Lo, hi: gn5050Hi }, { lo: gn7525Lo, hi: gn7525Hi }] },
  inLegend: { x: 171, y: 209, gap: 25, len: 50 }
}, [errPlugin, inLegendPlugin]);

drawChart({ l: 678, r: 1030, t: 1073, b: 1360 }, padC, [
  stageSeries(compositions[0], tc1_2575, 'triangle', lineGray, 7),
  stageSeries(compositions[1], tc1_5050, 'rect', lineDash, 7),
  stageSeries(compositions[2], tc1_7525, 'circle', lineSolid, 6)
], stageScales(0.1127, 0.266, tc1Ticks, v => String(v), 23), {
  frame: { xMajor: [0, 1, 2, 3], yMajor: tc1Ticks, yMinor: range(0.11, 0.26, 0.01), topTicks: false, rightMinor: false, lw: 2.5 },
  errBars: { bars: [{ lo: tc1_2575Lo, hi: tc1_2575Hi }, { lo: tc1_5050Lo, hi: tc1_5050Hi }, { lo: tc1_7525Lo, hi: tc1_7525Hi }] },
  inLegend: { x: 55, y: 28, gap: 25, len: 48 }
}, [errPlugin, inLegendPlugin]);

drawChart({ l: 1176, r: 1528, t: 1074, b: 1357 }, padC, [
  stageSeries(compositions[0], tc2_2575, 'triangle', lineSolid, 7),
  stageSeries(compositions[1], tc2_5050, 'rect', lineDash, 7),
  stageSeries(compositions[2], tc2_7525, 'circle', lineGray, 6)
], stageScales(1, 20, tc2Ticks, v => String(v), 23), {
  frame: { xMajor: [0, 1, 2, 3], yMajor: tc2Ticks, yMinor: [3, 4, 6, 7, 8, 9], topTicks: false, rightMinor: false, lw: 2.5 },
  errBars: { bars: [{ lo: tc2_2575Lo, hi: tc2_2575Hi }, { lo: tc2_5050Lo, hi: tc2_5050Hi }, { lo: tc2_7525Lo, hi: tc2_7525Hi }] },
  inLegend: { x: 237, y: 24, gap: 25, len: 45 }
}, [errPlugin, inLegendPlugin]);
</script>
</body>
</html>
